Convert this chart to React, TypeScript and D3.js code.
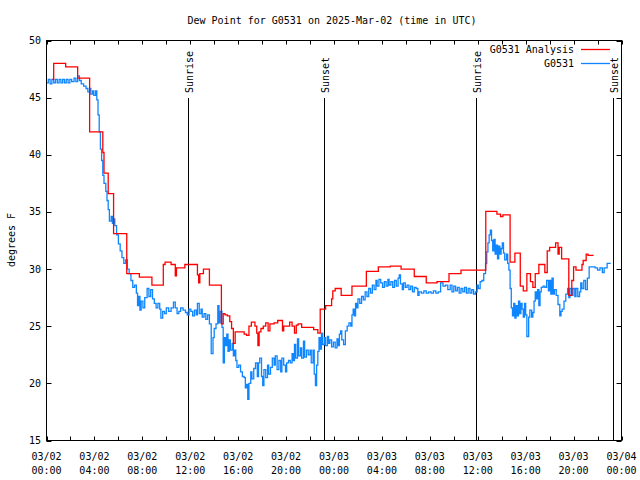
import React from "react";
import * as d3 from "d3";

// ---- data (hours since 03/02 00:00 UTC) ----
const redHours = [0.5, 0.6, 1.6, 2.6, 3.6, 4.7, 4.8, 5.15, 5.6, 6.7, 7.75, 8.8, 9.75, 9.9, 10.4, 10.75, 10.85, 11.55, 12.6, 12.7, 12.8, 13.1, 13.6, 14.6, 14.75, 14.9, 15.1, 15.3, 15.45, 15.6, 15.75, 16.5, 16.7, 16.9, 17.1, 17.4, 17.55, 17.65, 17.75, 17.9, 18.1, 18.3, 18.5, 18.65, 19.0, 19.3, 19.7, 19.8, 20.0, 20.3, 20.5, 20.7, 20.85, 21.0, 21.3, 22.3, 22.65, 22.85, 23.3, 23.8, 23.9, 24.1, 24.6, 25.5, 26.7, 27.7, 28.7, 29.6, 30.7, 31.7, 32.6, 33.6, 34.6, 36.67, 37.6, 37.9, 38.1, 38.7, 39.1, 39.55, 39.8, 40.1, 40.4, 40.6, 40.8, 41.1, 41.6, 41.8, 42.0, 42.5, 42.7, 42.8, 43.0, 43.6, 43.85, 44.0, 44.2, 44.7, 44.8, 45.05, 45.2, 45.67];
const redValues = [46.6, 48.0, 47.7, 46.7, 42.0, 40.2, 38.4, 36.6, 33.1, 29.6, 29.3, 28.6, 30.4, 30.6, 30.4, 29.4, 30.1, 30.4, 29.5, 28.8, 29.6, 30.0, 28.6, 25.2, 26.1, 26.0, 25.9, 25.4, 24.8, 23.5, 24.5, 24.3, 24.2, 25.0, 25.35, 25.0, 24.4, 23.3, 24.5, 24.8, 25.0, 25.3, 24.6, 25.2, 25.3, 25.5, 24.6, 25.0, 25.0, 25.35, 25.0, 24.4, 25.1, 25.2, 24.9, 24.7, 24.4, 26.5, 26.8, 27.4, 28.1, 28.3, 27.7, 28.5, 29.8, 30.2, 30.25, 30.0, 29.35, 28.8, 28.9, 29.6, 29.9, 35.05, 34.8, 34.6, 34.75, 30.6, 31.4, 28.5, 28.1, 29.6, 28.9, 28.4, 29.6, 30.4, 29.7, 31.6, 31.9, 32.3, 31.3, 31.9, 30.9, 27.7, 29.0, 30.2, 29.9, 30.4, 30.75, 31.3, 31.2, 31.2];

const blueHours = [0.0, 0.15, 0.3, 0.45, 0.6, 0.75, 0.9, 1.05, 1.2, 1.35, 1.5, 1.65, 1.8, 1.95, 2.1, 2.3, 2.45, 2.6, 2.75, 2.9, 3.1, 3.3, 3.45, 3.6, 3.7, 3.85, 3.95, 4.1, 4.2, 4.3, 4.4, 4.5, 4.6, 4.7, 4.8, 4.95, 5.05, 5.15, 5.25, 5.4, 5.5, 5.6, 5.7, 5.85, 6.0, 6.15, 6.3, 6.45, 6.6, 6.75, 6.9, 7.05, 7.2, 7.35, 7.5, 7.6, 7.7, 7.8, 7.9, 8.05, 8.2, 8.4, 8.55, 8.7, 8.85, 9.0, 9.15, 9.3, 9.45, 9.55, 9.7, 9.85, 10.0, 10.2, 10.4, 10.6, 10.75, 10.9, 11.05, 11.2, 11.4, 11.6, 11.75, 11.9, 12.05, 12.2, 12.35, 12.5, 12.6, 12.75, 12.9, 13.0, 13.15, 13.3, 13.45, 13.6, 13.75, 13.9, 14.0, 14.15, 14.3, 14.4, 14.5, 14.65, 14.75, 14.85, 14.95, 15.05, 15.15, 15.25, 15.35, 15.5, 15.6, 15.7, 15.8, 15.9, 16.05, 16.2, 16.35, 16.5, 16.6, 16.7, 16.8, 16.9, 17.05, 17.15, 17.3, 17.45, 17.6, 17.7, 17.8, 17.95, 18.05, 18.15, 18.3, 18.45, 18.55, 18.7, 18.85, 19.0, 19.1, 19.25, 19.4, 19.55, 19.65, 19.8, 19.95, 20.05, 20.2, 20.35, 20.5, 20.6, 20.7, 20.8, 20.95, 21.05, 21.2, 21.3, 21.45, 21.55, 21.7, 21.85, 22.0, 22.1, 22.25, 22.35, 22.45, 22.55, 22.65, 22.75, 22.85, 22.95, 23.05, 23.2, 23.3, 23.45, 23.55, 23.65, 23.8, 23.95, 24.1, 24.25, 24.35, 24.45, 24.55, 24.65, 24.8, 24.95, 25.1, 25.25, 25.4, 25.5, 25.6, 25.7, 25.8, 25.9, 26.0, 26.15, 26.3, 26.45, 26.6, 26.75, 26.9, 27.05, 27.2, 27.35, 27.5, 27.6, 27.75, 27.9, 28.05, 28.2, 28.35, 28.5, 28.6, 28.75, 28.9, 29.05, 29.2, 29.35, 29.45, 29.55, 29.7, 29.8, 29.95, 30.1, 30.25, 30.4, 30.55, 30.7, 30.85, 31.0, 31.1, 31.3, 31.5, 31.7, 31.9, 32.1, 32.3, 32.5, 32.7, 32.9, 33.1, 33.3, 33.5, 33.7, 33.85, 34.0, 34.15, 34.3, 34.45, 34.6, 34.75, 34.9, 35.05, 35.2, 35.35, 35.5, 35.65, 35.8, 35.95, 36.05, 36.2, 36.35, 36.5, 36.65, 36.75, 36.85, 36.95, 37.05, 37.15, 37.25, 37.35, 37.45, 37.55, 37.65, 37.75, 37.85, 37.95, 38.05, 38.15, 38.25, 38.4, 38.5, 38.6, 38.7, 38.8, 38.9, 39.0, 39.1, 39.2, 39.3, 39.4, 39.5, 39.6, 39.7, 39.8, 39.9, 40.0, 40.1, 40.25, 40.35, 40.5, 40.6, 40.7, 40.8, 40.9, 41.0, 41.1, 41.2, 41.3, 41.45, 41.6, 41.75, 41.9, 42.0, 42.1, 42.2, 42.3, 42.4, 42.55, 42.7, 42.85, 42.95, 43.05, 43.2, 43.35, 43.5, 43.6, 43.7, 43.85, 43.95, 44.1, 44.2, 44.35, 44.5, 44.6, 44.7, 44.85, 45.0, 45.15, 45.3, 45.45, 45.6, 45.8, 46.0, 46.2, 46.4, 46.55, 46.8, 47.1];
const blueValues = [46.3, 46.6, 46.2, 46.6, 46.3, 46.6, 46.3, 46.6, 46.3, 46.6, 46.3, 46.6, 46.3, 46.6, 46.4, 46.7, 46.4, 46.9, 46.5, 46.2, 46.0, 45.8, 45.5, 45.8, 45.3, 45.6, 45.2, 45.6, 44.8, 43.5, 42.0, 40.5, 39.5, 38.2, 37.5, 36.8, 36.0, 35.2, 34.2, 34.6, 34.0, 34.4, 33.8, 33.0, 32.2, 31.6, 31.0, 30.5, 30.8, 30.0, 29.6, 29.0, 28.4, 28.6, 27.9, 26.8, 27.6, 26.4, 27.2, 26.6, 27.5, 28.3, 27.6, 28.2, 27.4, 27.0, 26.6, 27.0, 26.5, 25.7, 26.3, 26.1, 26.6, 26.3, 26.6, 27.1, 26.6, 26.1, 26.3, 26.6, 26.4, 26.2, 26.0, 26.5, 26.3, 25.9, 26.4, 26.0, 27.0, 26.1, 26.5, 25.8, 26.1, 25.6, 26.0, 25.2, 22.6, 24.0, 24.8, 25.2, 26.8, 25.3, 26.3, 24.9, 21.8, 24.0, 23.3, 24.3, 22.8, 23.8, 22.9, 23.5, 22.4, 22.9, 22.0, 21.4, 21.6, 21.0, 20.6, 20.5, 19.6, 19.9, 18.6, 20.0, 21.0, 20.4, 21.3, 21.8, 20.6, 21.8, 22.2, 20.6, 19.8, 21.2, 20.5, 21.6, 20.8, 21.4, 22.2, 21.6, 22.4, 21.2, 22.0, 21.0, 22.2, 21.6, 21.0, 21.8, 22.0, 21.8, 22.6, 22.0, 23.4, 22.2, 23.9, 22.4, 23.1, 22.2, 23.7, 22.3, 22.9, 22.5, 22.9, 21.8, 22.9, 20.8, 19.8, 21.6, 22.8, 24.0, 23.0, 24.4, 23.4, 24.0, 23.3, 24.1, 23.5, 23.8, 23.2, 23.6, 23.1, 23.9, 23.3, 24.3, 24.6, 23.8, 23.4, 24.6, 25.0, 25.3, 25.0, 26.0, 26.5, 25.9, 27.0, 26.6, 27.4, 27.0, 27.6, 27.3, 28.0, 27.6, 28.3, 27.9, 28.6, 28.2, 29.0, 28.5, 29.1, 28.8, 28.4, 28.9, 28.5, 29.1, 28.6, 28.9, 28.4, 29.0, 28.5, 29.2, 29.5, 28.7, 28.2, 28.8, 28.4, 28.6, 28.2, 28.5, 28.0, 28.4, 28.3, 27.7, 28.0, 27.9, 28.1, 27.9, 28.0, 27.9, 28.1, 27.9, 28.0, 28.8, 28.5, 28.6, 28.2, 28.6, 28.0, 28.5, 28.1, 28.4, 27.9, 28.3, 28.0, 28.4, 27.9, 28.3, 27.9, 28.2, 27.8, 28.0, 28.6, 28.3, 28.9, 29.0, 29.6, 30.5, 31.5, 32.3, 33.0, 33.4, 32.5, 31.6, 32.6, 31.3, 32.1, 30.9, 32.0, 31.3, 31.8, 32.3, 31.4, 30.8, 31.3, 30.5, 29.9, 28.3, 26.6, 25.9, 27.0, 25.7, 26.8, 25.9, 27.2, 26.1, 27.0, 26.5, 25.8, 27.0, 26.0, 24.1, 25.8, 26.4, 25.8, 26.2, 27.2, 28.0, 27.4, 28.2, 26.8, 28.0, 28.4, 28.5, 28.4, 29.0, 28.1, 29.0, 27.8, 29.2, 27.8, 28.2, 27.7, 26.9, 25.9, 26.3, 26.5, 27.2, 27.8, 28.3, 27.5, 28.3, 27.7, 28.3, 27.6, 28.3, 27.6, 28.0, 28.8, 28.3, 29.0, 28.2, 29.2, 30.2, 30.2, 30.2, 30.1, 29.9, 30.1, 29.7, 30.1, 30.5];

const xTickHours = [0, 4, 8, 12, 16, 20, 24, 28, 32, 36, 40, 44, 48];
const xTickDates = ["03/02", "03/02", "03/02", "03/02", "03/02", "03/02", "03/03", "03/03", "03/03", "03/03", "03/03", "03/03", "03/04"];
const xTickTimes = ["00:00", "04:00", "08:00", "12:00", "16:00", "20:00", "00:00", "04:00", "08:00", "12:00", "16:00", "20:00", "00:00"];
const yTicks = [15, 20, 25, 30, 35, 40, 45, 50];

const sunEventHours = [11.85, 23.2, 35.83, 47.27];
const sunEventLabels = ["Sunrise", "Sunset", "Sunrise", "Sunset"];

const seriesNames = ["G0531 Analysis", "G0531"];
const seriesColors = ["#ff0000", "#0f86ff"];

const TITLE = "Dew Point for G0531 on 2025-Mar-02 (time in UTC)";
const YLABEL = "degrees F";

export default function App() {
  const W = 640, H = 480;
  const L = 46.5, R = 621.5, T = 40.5, B = 440.5;
  const x = d3.scaleLinear().domain([0, 48]).range([L, R]);
  const y = d3.scaleLinear().domain([15, 50]).range([B, T]);
  const font = "'DejaVu Sans Mono', monospace";

  const line = d3
    .line<[number, number]>()
    .x((d) => x(d[0]))
    .y((d) => y(d[1]))
    .curve(d3.curveStepAfter);

  const redData = redHours.map((h, i) => [h, redValues[i]] as [number, number]);
  const blueData = blueHours.map((h, i) => [h, blueValues[i]] as [number, number]);

  const minorX = d3.range(0, 49, 2);

  return (
    <svg
      width={W}
      height={H}
      style={{ position: "absolute", left: 0, top: 0, background: "#fff" }}
      fontFamily={font}
      fontSize={10}
    >
      <rect x={0} y={0} width={W} height={H} fill="#fff" />
      <text x={332} y={24} textAnchor="middle" fill="#000">{TITLE}</text>

      {/* sunrise / sunset markers */}
      {sunEventHours.map((h, i) => (
        <g key={"sun" + i}>
          <line x1={Math.round(x(h)) + 0.5} x2={Math.round(x(h)) + 0.5} y1={B} y2={98} stroke="#000" strokeWidth={1} />
          <text
            transform={`translate(${Math.round(x(h)) + 1},93) rotate(-90)`}
            textAnchor="start"
            dominantBaseline="central"
            fill="#000"
          >
            {sunEventLabels[i]}
          </text>
        </g>
      ))}

      {/* series */}
      <path d={line(blueData) || ""} fill="none" stroke={seriesColors[1]} strokeWidth={1.3} />
      <path d={line(redData) || ""} fill="none" stroke={seriesColors[0]} strokeWidth={1.3} />

      {/* frame */}
      <rect x={L} y={T} width={R - L} height={B - T} fill="none" stroke="#000" strokeWidth={1} />

      {/* x ticks */}
      {minorX.map((h) => (
        <g key={"xt" + h}>
          <line x1={Math.round(x(h)) + 0.5} x2={Math.round(x(h)) + 0.5} y1={B} y2={B - 4} stroke="#000" />
          <line x1={Math.round(x(h)) + 0.5} x2={Math.round(x(h)) + 0.5} y1={T} y2={T + 4} stroke="#000" />
        </g>
      ))}
      {xTickHours.map((h, i) => (
        <g key={"xl" + h}>
          <text x={x(h)} y={460} textAnchor="middle" fill="#000">{xTickDates[i]}</text>
          <text x={x(h)} y={474} textAnchor="middle" fill="#000">{xTickTimes[i]}</text>
        </g>
      ))}

      {/* y ticks */}
      {yTicks.map((v) => (
        <g key={"yt" + v}>
          <line x1={L} x2={L + 5} y1={Math.round(y(v)) + 0.5} y2={Math.round(y(v)) + 0.5} stroke="#000" />
          <line x1={R} x2={R - 5} y1={Math.round(y(v)) + 0.5} y2={Math.round(y(v)) + 0.5} stroke="#000" />
          <text x={41} y={y(v)} textAnchor="end" dominantBaseline="central" fill="#000">{v}</text>
        </g>
      ))}
      <text transform={`translate(11,240) rotate(-90)`} textAnchor="middle" dominantBaseline="central" fill="#000">{YLABEL}</text>

      {/* legend */}
      {seriesNames.map((n, i) => (
        <g key={"lg" + i}>
          <text x={574} y={49 + i * 14} textAnchor="end" dominantBaseline="central" fill="#000">{n}</text>
          <line x1={581} x2={610} y1={49.5 + i * 14} y2={49.5 + i * 14} stroke={seriesColors[i]} strokeWidth={1.3} />
        </g>
      ))}
    </svg>
  );
}
